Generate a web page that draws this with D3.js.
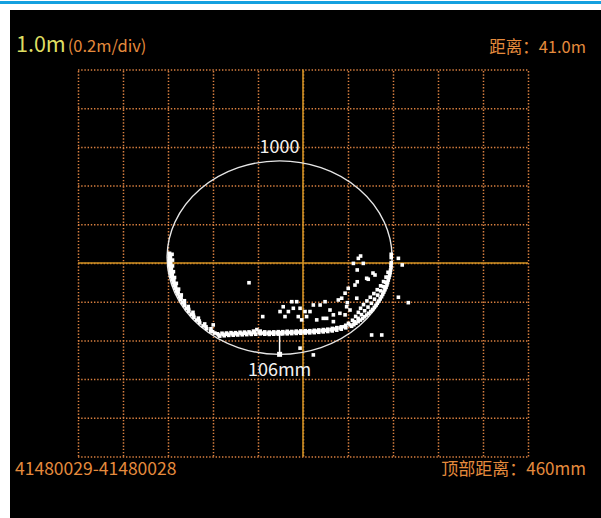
<!DOCTYPE html>
<html>
<head>
<meta charset="utf-8">
<script src="https://cdn.jsdelivr.net/npm/d3@7"></script>
<style>
  html, body { margin: 0; padding: 0; background: #fff; }
  svg { display: block; }
  text { font-family: "Noto Sans CJK SC", "Noto Sans", sans-serif; }
</style>
</head>
<body>
<svg id="chart" width="601" height="518"></svg>
<script>
// grid: 0.2m per division, values in mm, origin at the scanner axis
var gridTicks = [-1000, -800, -600, -400, -200, 0, 200, 400, 600, 800, 1000];

// design circle (diameter 1000)
var circleCenter = [-104, 28];
var circleRadius = 500;

// measured profile, mm
var leftArc = [
  [-593, 50], [-594, 35], [-594, 20], [-593, 5], [-593, -10], [-591, -25], [-589, -40],
  [-587, -55], [-584, -70], [-581, -85], [-577, -100], [-573, -115], [-568, -130],
  [-562, -145], [-556, -160], [-550, -175], [-543, -190], [-535, -205], [-527, -220],
  [-518, -235], [-508, -250], [-497, -265], [-485, -280], [-473, -295], [-459, -310],
  [-444, -325], [-428, -340], [-410, -352], [-392, -362],
  [-589, 30], [-588, 0], [-585, -30], [-581, -60], [-574, -90], [-566, -120],
  [-555, -150], [-542, -180], [-527, -210], [-508, -240], [-487, -270], [-461, -300],
  [-431, -330], [-402, -355],
  [-582, 45], [-580, 15], [-580, -15], [-576, -45], [-571, -75], [-563, -105],
  [-553, -135], [-541, -165], [-527, -195], [-510, -225], [-489, -255], [-465, -285],
  [-437, -315], [-409, -340]
];

var bottomBand = [
  [-380, -366], [-360, -363], [-340, -362], [-320, -360], [-300, -360], [-280, -358],
  [-260, -357], [-240, -356], [-220, -352], [-205, -344], [-190, -352], [-170, -356],
  [-150, -357], [-130, -356], [-110, -355], [-90, -355], [-70, -353], [-50, -354],
  [-30, -352], [-10, -351], [10, -350], [30, -350], [50, -348], [70, -346], [90, -344],
  [110, -342], [130, -338], [150, -334], [170, -330], [190, -322],
  [-375, -372], [-355, -369], [-335, -368], [-315, -366], [-295, -366], [-275, -364],
  [-255, -363], [-235, -362], [-215, -360], [-195, -358], [-175, -362], [-155, -363],
  [-135, -362], [-115, -361], [-95, -360], [-75, -359], [-55, -359], [-35, -358],
  [-15, -357], [5, -356], [25, -355], [45, -354], [65, -352], [85, -350], [105, -348],
  [125, -345], [145, -341], [165, -336], [185, -329],
  [-370, -378], [-350, -376], [-330, -374], [-310, -373], [-290, -372], [-270, -371],
  [-250, -370], [-230, -369], [-210, -368], [-190, -366], [-170, -368], [-150, -369],
  [-130, -368], [-110, -367], [-90, -366], [-70, -366], [-50, -365], [-30, -364],
  [-10, -363], [10, -362], [30, -361], [50, -360], [70, -358], [90, -356], [110, -354],
  [130, -351], [150, -347], [170, -342], [190, -335]
];

var rightArc = [
  [216, -327], [235, -311], [255, -295], [274, -278], [292, -260], [309, -240],
  [324, -219], [337, -197], [349, -174], [359, -150], [369, -126], [376, -101],
  [382, -75], [387, -50], [391, -24], [392, 2], [392, 28], [392, 45],
  [226, -319], [245, -303], [265, -287], [283, -269], [301, -250], [317, -229],
  [330, -208], [343, -185], [354, -162], [364, -138], [373, -113], [379, -88],
  [385, -62], [389, -37], [391, -11],
  [202, -312], [220, -296], [234, -276], [246, -255], [256, -234], [269, -215],
  [284, -196], [299, -177], [315, -158], [330, -138], [345, -118], [358, -96],
  [369, -73], [378, -48],
  [209, -320], [228, -304], [245, -286], [260, -267], [274, -247], [289, -228],
  [304, -208], [318, -187], [332, -166], [345, -144], [357, -122], [367, -99], [376, -74]
];

var strayPoints = [
  [256, 36], [246, 24], [224, -2], [268, -2], [241, -36], [320, -62], [290, -84],
  [311, -52], [283, -79], [241, -97], [231, -114], [201, -131], [187, -156],
  [172, -182], [157, -191], [239, -182], [197, -205], [194, -226], [209, -243],
  [187, -268], [164, -260], [120, -243], [135, -268], [90, -286], [76, -217],
  [46, -217], [31, -251], [98, -200], [16, -277], [-6, -294], [-21, -277], [9, -251],
  [-28, -200], [-50, -200], [-43, -234], [-65, -251], [-88, -226], [-102, -251],
  [-80, -277], [-13, -234], [61, -294], [105, -286], [135, -303],
  [424, 24], [441, -10], [424, -177], [468, -205], [305, -372], [350, -372],
  [46, -475], [-13, -440], [-240, -102], [-179, -277], [-399, -320]
];

// clearance from the lowest profile point to the design circle
var clearanceX = -104;
var clearanceTop = -366;

var scaleLabel = "1.0m";
var divLabel = "(0.2m/div)";
var distanceLabel = "距离：41.0m";
var ringLabel = "1000";
var clearanceLabel = "106mm";
var sectionLabel = "41480029-41480028";
var topLabel = "顶部距离：460mm";

var svg = d3.select("#chart");
var W = 601, H = 518;

var orange = "#e58b3d";
var gridColor = "#d98040";
var axisColor = "#cf9022";

// page frame
svg.append("rect").attr("width", W).attr("height", H).attr("fill", "#fff");
svg.append("rect").attr("x", 0).attr("y", 1).attr("width", W).attr("height", 3).attr("fill", "#14a0df");
svg.append("rect").attr("x", 10).attr("y", 10).attr("width", W - 10).attr("height", H - 10).attr("fill", "#000");

var x = d3.scaleLinear().domain([-1000, 1000]).range([78, 528]);
var y = d3.scaleLinear().domain([-1000, 1000]).range([456.5, 69.5]);

// dotted grid through the axes
var xGrid = d3.axisBottom(x).tickValues(gridTicks).tickFormat("").tickSize(-(y(-1000) - y(1000)));
var yGrid = d3.axisLeft(y).tickValues(gridTicks).tickFormat("").tickSize(-(x(1000) - x(-1000)));

function styleGrid(g) {
  g.select(".domain").remove();
  g.selectAll(".tick line")
    .attr("stroke", gridColor)
    .attr("stroke-width", 1.5)
    .attr("stroke-dasharray", "1.4,1.8");
}

svg.append("g").attr("transform", "translate(0," + y(-1000) + ")").call(xGrid).call(styleGrid);
svg.append("g").attr("transform", "translate(" + x(-1000) + ",0)").call(yGrid).call(styleGrid);

// solid centre lines
svg.append("line")
  .attr("x1", x(0)).attr("x2", x(0)).attr("y1", y(1000)).attr("y2", y(-1000))
  .attr("stroke", axisColor).attr("stroke-width", 1.6);
svg.append("line")
  .attr("x1", x(-1000)).attr("x2", x(1000)).attr("y1", y(0)).attr("y2", y(0))
  .attr("stroke", axisColor).attr("stroke-width", 1.6);

// design circle
svg.append("ellipse")
  .attr("cx", x(circleCenter[0])).attr("cy", y(circleCenter[1]))
  .attr("rx", x(circleRadius) - x(0)).attr("ry", y(0) - y(circleRadius))
  .attr("fill", "none").attr("stroke", "#e6e6e6").attr("stroke-width", 1.4);

// profile points
var allPoints = leftArc.concat(bottomBand, rightArc, strayPoints);
svg.append("g").selectAll("rect")
  .data(allPoints)
  .enter().append("rect")
    .attr("x", function(d) { return x(d[0]) - 1.8; })
    .attr("y", function(d) { return y(d[1]) - 1.8; })
    .attr("width", 3.6).attr("height", 3.6)
    .attr("fill", "#fff");

// clearance marker
var cBottom = circleCenter[1] - circleRadius;
var mx = x(clearanceX);
svg.append("line")
  .attr("x1", mx).attr("x2", mx).attr("y1", y(clearanceTop)).attr("y2", y(cBottom))
  .attr("stroke", "#fff").attr("stroke-width", 1.5);
svg.append("line")
  .attr("x1", mx - 3).attr("x2", mx + 3).attr("y1", y(clearanceTop) + 1).attr("y2", y(clearanceTop) + 1)
  .attr("stroke", "#fff").attr("stroke-width", 1.5);
svg.append("rect")
  .attr("x", mx - 2.5).attr("y", y(cBottom) - 2.5).attr("width", 5).attr("height", 5)
  .attr("fill", "#fff");

// labels
svg.append("text")
  .attr("x", x(circleCenter[0])).attr("y", 153)
  .attr("text-anchor", "middle").attr("fill", "#f2f2f2").attr("font-size", 18)
  .text(ringLabel);
svg.append("text")
  .attr("x", mx).attr("y", 376)
  .attr("text-anchor", "middle").attr("fill", "#f2f2f2").attr("font-size", 18)
  .text(clearanceLabel);

var head = svg.append("text").attr("x", 16).attr("y", 52);
head.append("tspan").attr("fill", "#dede62").attr("font-size", 21.5).text(scaleLabel);
head.append("tspan").attr("dx", 2).attr("fill", orange).attr("font-size", 16.5).text(divLabel);

svg.append("text")
  .attr("x", 586).attr("y", 53)
  .attr("text-anchor", "end").attr("fill", orange).attr("font-size", 16.5)
  .text(distanceLabel);

svg.append("text")
  .attr("x", 15).attr("y", 475)
  .attr("fill", orange).attr("font-size", 17.5)
  .text(sectionLabel);

svg.append("text")
  .attr("x", 586).attr("y", 475)
  .attr("text-anchor", "end").attr("fill", orange).attr("font-size", 17)
  .text(topLabel);
</script>
</body>
</html>
